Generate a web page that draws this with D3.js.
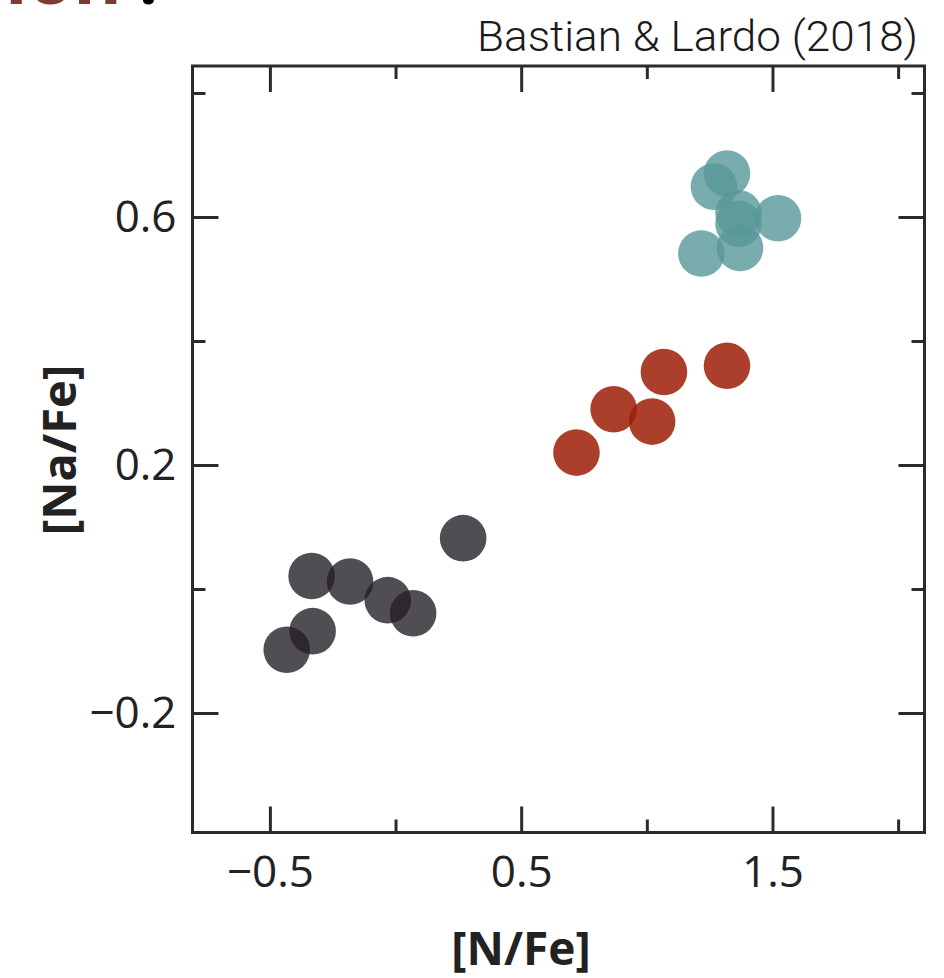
<!DOCTYPE html>
<html>
<head>
<meta charset="utf-8">
<script src="https://cdn.jsdelivr.net/npm/d3@7"></script>
<style>
  html, body { margin: 0; padding: 0; background: #ffffff; }
  svg { display: block; }
</style>
</head>
<body>
<svg id="chart" width="944" height="978"></svg>
<script>
// [N/Fe] and [Na/Fe] abundances of individual stars, grouped by population
const firstGenNFe  = [0.269, -0.334, -0.181, -0.031, 0.070, -0.330, -0.433];
const firstGenNaFe = [0.082,  0.021,  0.012, -0.018, -0.039, -0.068, -0.098];

const interNFe  = [0.720, 0.868, 1.021, 1.068, 1.319];
const interNaFe = [0.220, 0.290, 0.270, 0.350, 0.360];

const extremeNFe  = [1.319, 1.267, 1.365, 1.365, 1.522, 1.371, 1.217];
const extremeNaFe = [0.670, 0.649, 0.606, 0.589, 0.598, 0.550, 0.541];

// axis ticks
const xMajorTicks = [-0.5, 0.5, 1.5];
const xMinorTicks = [0, 1, 2];
const yMajorTicks = [-0.2, 0.2, 0.6];
const yMinorTicks = [0, 0.4, 0.8];

const xTitle = "[N/Fe]";
const yTitle = "[Na/Fe]";
const credit = "Bastian & Lardo (2018)";

const populations = [
  { nfe: firstGenNFe,  nafe: firstGenNaFe,  fill: "rgb(34,31,37)",   opacity: 0.79 },
  { nfe: interNFe,     nafe: interNaFe,     fill: "rgb(157,29,7)",   opacity: 0.85 },
  { nfe: extremeNFe,   nafe: extremeNaFe,   fill: "rgb(88,151,152)", opacity: 0.80 }
];

const svg = d3.select("#chart");

const frame = { left: 192.5, right: 924.5, top: 66, bottom: 832.5 };

const x = d3.scaleLinear().domain([-0.808, 2.105]).range([frame.left, frame.right]);
const y = d3.scaleLinear().domain([-0.3927, 0.8435]).range([frame.bottom, frame.top]);

const fmt = d3.format(".1f");
const axisColor = "#2b2b2b";
const majorLen = 26, minorLen = 13;

function styleAxis(g, labelled) {
  g.select(".domain").remove();
  g.selectAll(".tick line").attr("stroke", axisColor).attr("stroke-width", 3);
  g.selectAll(".tick text")
    .attr("fill", "#222")
    .style("font-family", "'Open Sans', sans-serif")
    .style("font-size", "44px");
  if (!labelled) g.selectAll(".tick text").remove();
}

// bottom axis: labelled majors + short minors, ticks pointing inward
svg.append("g").attr("transform", `translate(0,${frame.bottom})`)
  .call(d3.axisBottom(x).tickValues(xMajorTicks).tickSizeInner(-majorLen).tickSizeOuter(0).tickPadding(23).tickFormat(fmt))
  .call(g => styleAxis(g, true));
svg.append("g").attr("transform", `translate(0,${frame.bottom})`)
  .call(d3.axisBottom(x).tickValues(xMinorTicks).tickSizeInner(-minorLen).tickSizeOuter(0))
  .call(g => styleAxis(g, false));

// top axis
svg.append("g").attr("transform", `translate(0,${frame.top})`)
  .call(d3.axisTop(x).tickValues(xMajorTicks).tickSizeInner(-majorLen).tickSizeOuter(0))
  .call(g => styleAxis(g, false));
svg.append("g").attr("transform", `translate(0,${frame.top})`)
  .call(d3.axisTop(x).tickValues(xMinorTicks).tickSizeInner(-minorLen).tickSizeOuter(0))
  .call(g => styleAxis(g, false));

// left axis
svg.append("g").attr("transform", `translate(${frame.left},0)`)
  .call(d3.axisLeft(y).tickValues(yMajorTicks).tickSizeInner(-majorLen).tickSizeOuter(0).tickPadding(16).tickFormat(fmt))
  .call(g => styleAxis(g, true));
svg.append("g").attr("transform", `translate(${frame.left},0)`)
  .call(d3.axisLeft(y).tickValues(yMinorTicks).tickSizeInner(-minorLen).tickSizeOuter(0))
  .call(g => styleAxis(g, false));

// right axis
svg.append("g").attr("transform", `translate(${frame.right},0)`)
  .call(d3.axisRight(y).tickValues(yMajorTicks).tickSizeInner(-majorLen).tickSizeOuter(0))
  .call(g => styleAxis(g, false));
svg.append("g").attr("transform", `translate(${frame.right},0)`)
  .call(d3.axisRight(y).tickValues(yMinorTicks).tickSizeInner(-minorLen).tickSizeOuter(0))
  .call(g => styleAxis(g, false));

// plot frame
svg.append("rect")
  .attr("x", frame.left).attr("y", frame.top)
  .attr("width", frame.right - frame.left).attr("height", frame.bottom - frame.top)
  .attr("fill", "none").attr("stroke", axisColor).attr("stroke-width", 3);

// stars
const starRadius = 23.3;
populations.forEach(p => {
  svg.append("g").selectAll("circle")
    .data(d3.range(p.nfe.length))
    .join("circle")
    .attr("cx", i => x(p.nfe[i]))
    .attr("cy", i => y(p.nafe[i]))
    .attr("r", starRadius)
    .attr("fill", p.fill)
    .attr("fill-opacity", p.opacity);
});

// axis titles
svg.append("text")
  .attr("x", 521).attr("y", 965)
  .attr("text-anchor", "middle")
  .attr("fill", "#222")
  .style("font-family", "'Open Sans', sans-serif")
  .style("font-weight", 700)
  .style("font-size", "46px")
  .text(xTitle);

svg.append("text")
  .attr("transform", "translate(76,450) rotate(-90)")
  .attr("text-anchor", "middle")
  .attr("fill", "#222")
  .style("font-family", "'Open Sans', sans-serif")
  .style("font-weight", 700)
  .style("font-size", "47px")
  .text(yTitle);

// source credit
svg.append("text")
  .attr("x", 918).attr("y", 51)
  .attr("text-anchor", "end")
  .attr("fill", "#1a1a1a")
  .attr("textLength", 441)
  .attr("lengthAdjust", "spacingAndGlyphs")
  .style("font-family", "Roboto, sans-serif")
  .style("font-weight", 300)
  .style("font-size", "43px")
  .text(credit);

// tail of the slide heading above the chart
svg.append("text")
  .attr("x", 122).attr("y", 4)
  .attr("text-anchor", "end")
  .attr("fill", "#7d3b35")
  .style("font-family", "'Open Sans', sans-serif")
  .style("font-weight", 700)
  .style("font-size", "74px")
  .text("ion");
svg.append("text")
  .attr("x", 148.5).attr("y", 4)
  .attr("text-anchor", "middle")
  .attr("fill", "#000")
  .style("font-family", "'Open Sans', sans-serif")
  .style("font-weight", 700)
  .style("font-size", "66px")
  .text(":");
</script>
</body>
</html>
